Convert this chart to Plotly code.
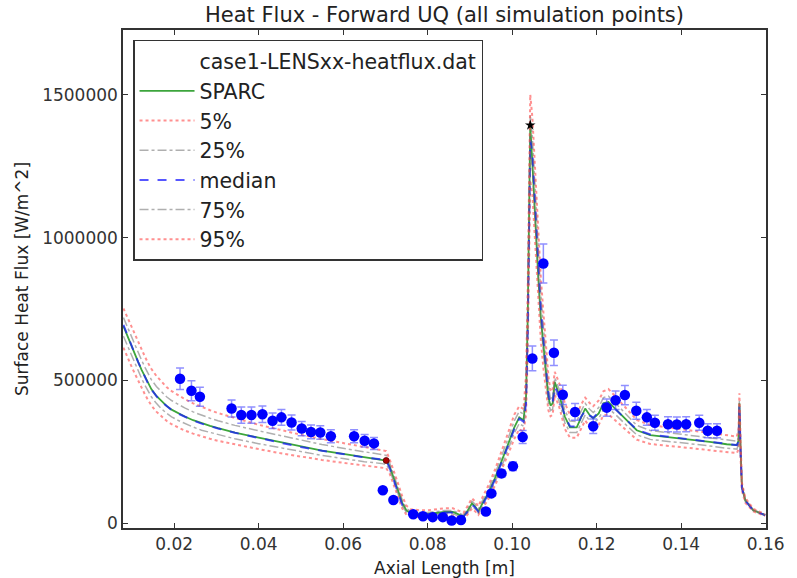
import plotly.graph_objects as go

# ---------------- data ----------------
# experimental points (case1-LENSxx-heatflux.dat)
exp_x = [0.0214, 0.0241, 0.0261, 0.0336, 0.0359, 0.0383, 0.0409, 0.0433, 0.0454, 0.0478,
         0.0502, 0.0524, 0.0546, 0.0571, 0.0626, 0.0651, 0.0673, 0.0694, 0.0719, 0.0766,
         0.0789, 0.0812, 0.0836, 0.0857, 0.0879, 0.0938, 0.0951, 0.0975, 0.1002, 0.1025,
         0.1048, 0.1074, 0.1099, 0.1120, 0.1149, 0.1192, 0.1224, 0.1245, 0.1267, 0.1294,
         0.1319, 0.1338, 0.1369, 0.1390, 0.1412, 0.1443, 0.1463, 0.1485]
exp_y = [506000, 464000, 443000, 402000, 379000, 379000, 382000, 359000, 371000, 353000,
         332000, 320000, 318000, 305000, 305000, 289000, 280000, 116000, 82000, 32000,
         25000, 22000, 22000, 10000, 12000, 42000, 105000, 175000, 200000, 302000,
         577000, 909000, 597000, 450000, 390000, 340000, 405000, 431000, 449000, 394000,
         371000, 352000, 347000, 346000, 347000, 352000, 324000, 324000]
exp_err_pct = 7.5

# simulation curves
curve_x = [0.0080, 0.0085, 0.0090, 0.0095, 0.0100, 0.0108, 0.0115, 0.0123, 0.0131, 0.0138,
           0.0146, 0.0158, 0.0170, 0.0182, 0.0194, 0.0210, 0.0225, 0.0245, 0.0265, 0.0285,
           0.0304, 0.0344, 0.0400, 0.0450, 0.0500, 0.0550, 0.0600, 0.0650, 0.0690, 0.0702,
           0.0710, 0.0720, 0.0730, 0.0740, 0.0750, 0.0760, 0.0780, 0.0800, 0.0820, 0.0840,
           0.0860, 0.0875, 0.0885, 0.0895, 0.0905, 0.0913, 0.0920, 0.0930, 0.0945, 0.0960,
           0.0975, 0.0990, 0.1005, 0.1017, 0.1027, 0.1033, 0.1037, 0.1040, 0.1043, 0.1048,
           0.1055, 0.1062, 0.1068, 0.1074, 0.1080, 0.1086, 0.1091, 0.1096, 0.1101, 0.1106,
           0.1113, 0.1125, 0.1137, 0.1153, 0.1163, 0.1173, 0.1183, 0.1192, 0.1205, 0.1216,
           0.1228, 0.1244, 0.1271, 0.1295, 0.1327, 0.1366, 0.1405, 0.1445, 0.1468, 0.1508,
           0.1532, 0.1536, 0.1538, 0.1541, 0.1544, 0.1552, 0.1571, 0.1599]

sparc = [690000, 671000, 653000, 635000, 617000, 589000, 564000, 537000, 512000, 491000,
         470000, 446000, 427000, 411000, 398000, 385000, 374000, 361000, 350000, 341000,
         333000, 318000, 300000, 285000, 268000, 255000, 243000, 231000, 224000, 220000,
         200000, 160000, 115000, 72000, 45000, 36000, 33000, 33000, 36000, 40000,
         40000, 32000, 24000, 45000, 70000, 58000, 42000, 70000, 110000, 160000,
         215000, 275000, 335000, 371000, 361000, 443000, 720000, 1050000, 1393000, 1260000,
         1050000, 860000, 720000, 618000, 520000, 440000, 412000, 420000, 495000, 470000,
         443000, 373000, 336000, 336000, 370000, 402000, 380000, 367000, 385000, 420000,
         425000, 402000, 361000, 326000, 309000, 303000, 297000, 289000, 285000, 277000,
         274000, 290000, 420000, 250000, 128000, 81000, 46000, 29000]

median = [695000, 675000, 656000, 637000, 618000, 589000, 564000, 537000, 511000, 490000,
          469000, 445000, 426000, 410000, 397000, 384000, 373000, 360000, 349000, 340000,
          332000, 317000, 299000, 284000, 267000, 254000, 242000, 231000, 224000, 220000,
          195000, 150000, 105000, 65000, 42000, 34000, 32000, 32000, 35000, 38000,
          38000, 30000, 24000, 42000, 66000, 55000, 42000, 66000, 106000, 155000,
          210000, 270000, 330000, 366000, 356000, 420000, 680000, 1000000, 1340000, 1300000,
          1100000, 900000, 760000, 650000, 545000, 455000, 415000, 425000, 480000, 465000,
          440000, 375000, 340000, 338000, 372000, 395000, 378000, 370000, 388000, 418000,
          422000, 400000, 362000, 328000, 311000, 304000, 298000, 290000, 286000, 277000,
          274000, 285000, 415000, 245000, 125000, 80000, 46000, 29000]

p5 = [615000, 597000, 580000, 563000, 546000, 521000, 498000, 474000, 451000, 432000,
      413000, 391000, 374000, 359000, 347000, 335000, 325000, 314000, 304000, 296000,
      289000, 276000, 260000, 246000, 233000, 222000, 212000, 202000, 196000, 193000,
      175000, 135000, 92000, 52000, 30000, 24000, 22000, 22000, 25000, 28000,
      28000, 20000, 14000, 32000, 52000, 42000, 30000, 52000, 88000, 134000,
      185000, 240000, 295000, 330000, 320000, 380000, 600000, 900000, 1200000, 1150000,
      960000, 780000, 640000, 545000, 460000, 395000, 375000, 380000, 450000, 430000,
      400000, 330000, 300000, 300000, 330000, 360000, 340000, 330000, 345000, 378000,
      382000, 362000, 325000, 293000, 278000, 272000, 267000, 260000, 256000, 249000,
      246000, 260000, 390000, 225000, 115000, 72000, 42000, 26000]

p25 = [655000, 637000, 619000, 601000, 584000, 557000, 533000, 507000, 483000, 463000,
       443000, 420000, 401000, 386000, 373000, 360000, 349000, 337000, 326000, 318000,
       310000, 296000, 279000, 265000, 250000, 238000, 227000, 216000, 210000, 206000,
       188000, 148000, 104000, 62000, 38000, 30000, 28000, 28000, 31000, 34000,
       34000, 26000, 19000, 38000, 60000, 50000, 36000, 60000, 100000, 146000,
       198000, 257000, 315000, 350000, 340000, 410000, 650000, 960000, 1290000, 1240000,
       1040000, 850000, 710000, 600000, 500000, 420000, 395000, 400000, 470000, 450000,
       420000, 352000, 318000, 318000, 350000, 380000, 360000, 350000, 366000, 398000,
       402000, 382000, 343000, 310000, 294000, 288000, 282000, 275000, 271000, 263000,
       260000, 275000, 405000, 240000, 122000, 77000, 44000, 28000]

p75 = [720000, 702000, 685000, 668000, 651000, 623000, 598000, 571000, 546000, 524000,
       503000, 479000, 460000, 443000, 430000, 416000, 404000, 390000, 378000, 368000,
       359000, 343000, 324000, 308000, 290000, 276000, 263000, 250000, 242000, 238000,
       212000, 172000, 126000, 82000, 52000, 42000, 38000, 38000, 41000, 45000,
       45000, 37000, 29000, 52000, 78000, 66000, 50000, 80000, 122000, 175000,
       232000, 295000, 358000, 392000, 382000, 470000, 760000, 1100000, 1430000, 1350000,
       1150000, 950000, 800000, 690000, 580000, 480000, 435000, 445000, 510000, 490000,
       462000, 395000, 358000, 356000, 392000, 420000, 400000, 388000, 405000, 440000,
       445000, 422000, 380000, 343000, 325000, 318000, 312000, 304000, 299000, 291000,
       288000, 300000, 430000, 260000, 134000, 85000, 48000, 30000]

p95 = [752000, 735000, 718000, 702000, 685000, 658000, 633000, 607000, 583000, 562000,
       541000, 516000, 495000, 477000, 463000, 448000, 435000, 420000, 407000, 396000,
       386000, 369000, 345000, 328000, 310000, 295000, 281000, 268000, 258000, 253000,
       225000, 185000, 140000, 95000, 62000, 50000, 46000, 46000, 49000, 53000,
       53000, 45000, 37000, 62000, 88000, 76000, 60000, 92000, 136000, 190000,
       250000, 315000, 380000, 410000, 400000, 520000, 820000, 1180000, 1500000, 1420000,
       1220000, 1010000, 860000, 740000, 620000, 515000, 460000, 470000, 530000, 510000,
       485000, 420000, 380000, 378000, 415000, 440000, 422000, 410000, 430000, 462000,
       470000, 445000, 402000, 362000, 344000, 336000, 330000, 321000, 316000, 308000,
       304000, 330000, 455000, 280000, 142000, 90000, 51000, 32000]

# highlighted simulation points
red_pt_x = [0.0702]
red_pt_y = [220000]
star_x = [0.1043]
star_y = [1393000]

legend_names = ["case1-LENSxx-heatflux.dat", "SPARC", "5%", "25%", "median", "75%", "95%"]

x_ticks = [0.02, 0.04, 0.06, 0.08, 0.10, 0.12, 0.14, 0.16]
x_tick_text = ["0.02", "0.04", "0.06", "0.08", "0.10", "0.12", "0.14", "0.16"]
y_ticks = [0, 500000, 1000000, 1500000]
y_tick_text = ["0", "500000", "1000000", "1500000"]

# ---------------- figure ----------------
FONT = "DejaVu Sans"
RED = "rgba(255,70,70,0.6)"
GRAY = "rgba(110,110,110,0.55)"
fig = go.Figure()

# legend-only entry for the data file (no visible symbol, as in the reference)
fig.add_trace(go.Scatter(x=exp_x, y=exp_y, mode="lines", line=dict(width=0, color="rgba(0,0,0,0)"),
                         name=legend_names[0], hoverinfo="skip"))

fig.add_trace(go.Scatter(x=curve_x, y=sparc, mode="lines", name=legend_names[1],
                         line=dict(color="rgb(60,165,60)", width=1.8)))
fig.add_trace(go.Scatter(x=curve_x, y=p5, mode="lines", name=legend_names[2],
                         line=dict(color=RED, width=2, dash="dot")))
fig.add_trace(go.Scatter(x=curve_x, y=p25, mode="lines", name=legend_names[3],
                         line=dict(color=GRAY, width=1.5, dash="dashdot")))
fig.add_trace(go.Scatter(x=curve_x, y=median, mode="lines", name=legend_names[4],
                         line=dict(color="rgba(30,30,255,0.75)", width=2, dash="dash")))
fig.add_trace(go.Scatter(x=curve_x, y=p75, mode="lines", name=legend_names[5],
                         line=dict(color=GRAY, width=1.5, dash="dashdot")))
fig.add_trace(go.Scatter(x=curve_x, y=p95, mode="lines", name=legend_names[6],
                         line=dict(color=RED, width=2, dash="dot")))

# experimental points with error bars
fig.add_trace(go.Scatter(x=exp_x, y=exp_y, mode="markers", showlegend=False,
                         marker=dict(color="#0000ff", size=10.5, line=dict(width=0)),
                         error_y=dict(type="percent", value=exp_err_pct, color="rgba(70,70,255,0.6)",
                                      thickness=1.5, width=4)))

fig.add_trace(go.Scatter(x=red_pt_x, y=red_pt_y, mode="markers", showlegend=False,
                         marker=dict(color="#aa0000", size=6, line=dict(width=0.8, color="#550000"))))
fig.add_trace(go.Scatter(x=star_x, y=star_y, mode="markers", showlegend=False,
                         marker=dict(color="black", size=8, symbol="star")))

axis_common = dict(showline=True, linecolor="#333333", linewidth=1.5, mirror="ticks",
                   ticks="inside", ticklen=5, tickwidth=1, tickcolor="#333333",
                   showgrid=False, zeroline=False,
                   tickfont=dict(family=FONT, size=17, color="#333333"))

fig.update_layout(
    width=797, height=578,
    margin=dict(l=123, r=31, t=30, b=50),
    paper_bgcolor="white", plot_bgcolor="white",
    font=dict(family=FONT, color="#333333"),
    title=dict(text="Heat Flux - Forward UQ (all simulation points)", x=0.5, xref="paper",
               y=1 - 15 / 578, yref="container", yanchor="middle",
               font=dict(family=FONT, size=21, color="#222222")),
    xaxis=dict(range=[0.0079, 0.1601], tickvals=x_ticks, ticktext=x_tick_text, **axis_common),
    yaxis=dict(range=[-16000, 1726000], tickvals=y_ticks, ticktext=y_tick_text, **axis_common),
    legend=dict(x=0.0156, y=0.98, xanchor="left", yanchor="top",
                bgcolor="white", bordercolor="#333333", borderwidth=1.5,
                font=dict(family=FONT, size=20.5, color="#222222"),
                itemwidth=55, entrywidth=285, traceorder="normal"),
    annotations=[
        dict(text="Axial Length [m]", xref="paper", yref="paper", x=0.5, y=(528 - 568) / 498,
             xanchor="center", yanchor="middle", showarrow=False,
             font=dict(family=FONT, size=17, color="#222222")),
        dict(text="Surface Heat Flux [W/m^2]", xref="paper", yref="paper",
             x=(22 - 123) / 643, y=0.5, xanchor="center", yanchor="middle",
             textangle=-90, showarrow=False,
             font=dict(family=FONT, size=17, color="#222222")),
    ],
)

fig.write_html("out.html")
